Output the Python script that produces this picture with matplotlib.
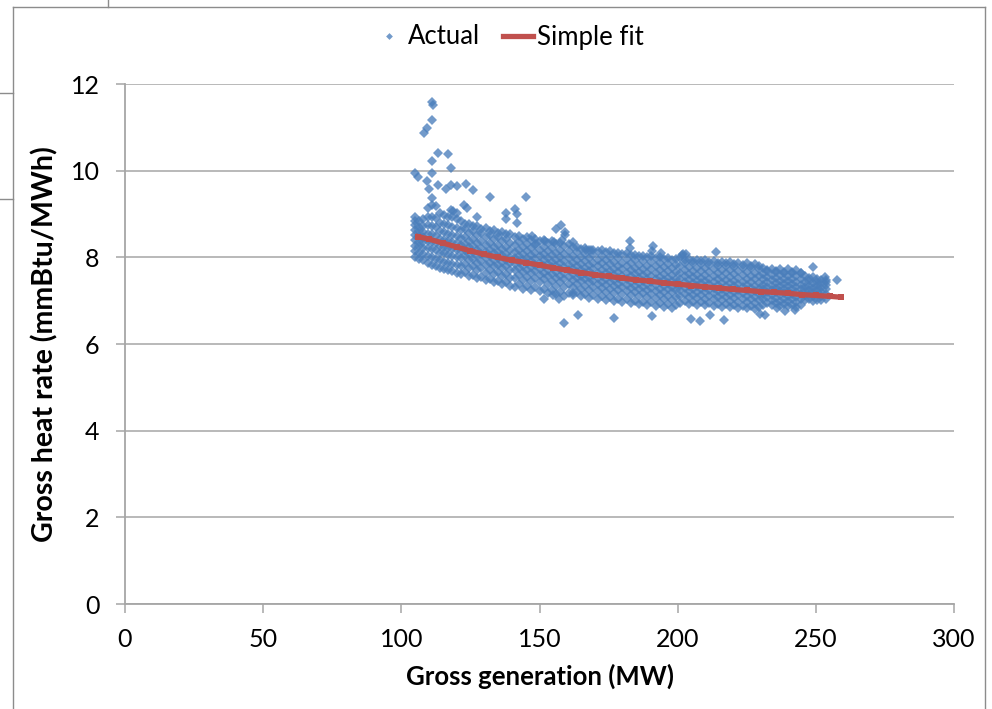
"""Gross heat rate vs gross generation: actual points plus a simple fit curve."""
import matplotlib
matplotlib.use("Agg")
import matplotlib.pyplot as plt
from matplotlib.lines import Line2D

plt.rcParams["font.family"] = ["Lato", "DejaVu Sans"]

# dense band of actual points, one column per generation level (MW)
actual_x = [105, 106.5, 108, 109.5, 111, 112.5, 114, 115.5, 117, 118.5, 120,
            121.5, 123, 124.5, 126, 127.5, 129, 130.5, 132, 133.5, 135, 136.5, 138, 139.5,
            141, 142.5, 144, 145.5, 147, 148.5, 150, 151.5, 153, 154.5, 156, 157.5, 159, 160.5,
            162, 163.5, 165, 166.5, 168, 169.5, 171, 172.5, 174, 175.5, 177, 178.5, 180,
            181.5, 183, 184.5, 186, 187.5, 189, 190.5, 192, 193.5, 195, 196.5, 198, 199.5,
            201, 202.5, 204, 205.5, 207, 208.5, 210, 211.5, 213, 214.5, 216, 217.5, 219,
            220.5, 222, 223.5, 225, 226.5, 228, 229.5,
            231, 232.5, 234, 235.5, 237, 238.5, 240, 241.5, 243, 244.5,
            246, 247.5, 249, 250.5, 252, 253.5]
actual_y = [
    [8.00, 8.15, 8.27, 8.41, 8.52, 8.62, 8.75, 8.84],
    [7.96, 8.10, 8.26, 8.36, 8.50, 8.60, 8.71, 8.83],
    [7.93, 8.08, 8.22, 8.35, 8.46, 8.58, 8.72, 8.88],
    [7.86, 8.02, 8.22, 8.38, 8.55, 8.74, 8.93, 9.15],
    [7.82, 8.00, 8.20, 8.36, 8.53, 8.72, 8.94, 9.20],
    [7.80, 7.97, 8.17, 8.33, 8.50, 8.70, 8.90, 9.18],
    [7.76, 7.93, 8.11, 8.27, 8.43, 8.60, 8.80, 9.02],
    [7.74, 7.90, 8.09, 8.25, 8.41, 8.58, 8.77, 8.97],
    [7.70, 7.88, 8.06, 8.22, 8.38, 8.55, 8.74, 8.94],
    [7.68, 7.85, 8.03, 8.19, 8.35, 8.52, 8.71, 8.92],
    [7.65, 7.82, 8.00, 8.16, 8.32, 8.49, 8.68, 8.88],
    [7.62, 7.81, 7.99, 8.14, 8.29, 8.44, 8.62, 8.84],
    [7.66, 7.85, 8.02, 8.17, 8.31, 8.47, 8.66, 8.78],
    [7.56, 7.75, 7.93, 8.08, 8.23, 8.38, 8.56, 8.78],
    [7.60, 7.80, 7.97, 8.12, 8.26, 8.42, 8.61, 8.72],
    [7.52, 7.70, 7.88, 8.03, 8.18, 8.33, 8.51, 8.72],
    [7.55, 7.75, 7.92, 8.07, 8.21, 8.37, 8.56, 8.66],
    [7.47, 7.65, 7.83, 7.98, 8.13, 8.28, 8.46, 8.67],
    [7.50, 7.70, 7.87, 8.02, 8.16, 8.32, 8.51, 8.61],
    [7.43, 7.61, 7.79, 7.94, 8.09, 8.24, 8.42, 8.63],
    [7.46, 7.66, 7.83, 7.98, 8.12, 8.28, 8.47, 8.57],
    [7.39, 7.57, 7.75, 7.90, 8.05, 8.20, 8.38, 8.58],
    [7.42, 7.62, 7.79, 7.94, 8.08, 8.24, 8.43, 8.53],
    [7.35, 7.53, 7.71, 7.86, 8.01, 8.16, 8.34, 8.55],
    [7.32, 7.52, 7.70, 7.84, 7.98, 8.12, 8.28, 8.47],
    [7.38, 7.59, 7.75, 7.90, 8.03, 8.18, 8.35, 8.50],
    [7.28, 7.48, 7.66, 7.80, 7.94, 8.08, 8.24, 8.43],
    [7.34, 7.55, 7.71, 7.86, 7.99, 8.14, 8.31, 8.46],
    [7.25, 7.45, 7.63, 7.77, 7.91, 8.05, 8.21, 8.40],
    [7.31, 7.52, 7.68, 7.83, 7.96, 8.11, 8.28, 8.43],
    [7.22, 7.42, 7.60, 7.74, 7.88, 8.02, 8.18, 8.37],
    [7.28, 7.49, 7.65, 7.80, 7.93, 8.08, 8.25, 8.40],
    [7.18, 7.38, 7.56, 7.70, 7.84, 7.98, 8.14, 8.33],
    [7.25, 7.46, 7.62, 7.77, 7.90, 8.05, 8.22, 8.37],
    [7.15, 7.35, 7.53, 7.67, 7.81, 7.95, 8.11, 8.30],
    [7.21, 7.42, 7.58, 7.73, 7.86, 8.01, 8.18, 8.33],
    [7.11, 7.31, 7.49, 7.63, 7.77, 7.91, 8.07, 8.26],
    [7.18, 7.39, 7.55, 7.70, 7.83, 7.98, 8.15, 8.30],
    [7.13, 7.31, 7.48, 7.61, 7.74, 7.88, 8.04, 8.23],
    [7.19, 7.38, 7.53, 7.67, 7.80, 7.95, 8.12, 8.25],
    [7.10, 7.28, 7.45, 7.58, 7.71, 7.85, 8.01, 8.20],
    [7.15, 7.34, 7.49, 7.63, 7.76, 7.91, 8.08, 8.21],
    [7.07, 7.25, 7.42, 7.55, 7.68, 7.82, 7.98, 8.17],
    [7.12, 7.31, 7.46, 7.60, 7.73, 7.88, 8.05, 8.18],
    [7.04, 7.22, 7.39, 7.52, 7.65, 7.79, 7.95, 8.14],
    [7.10, 7.29, 7.44, 7.58, 7.71, 7.86, 8.03, 8.16],
    [7.02, 7.20, 7.37, 7.50, 7.63, 7.77, 7.93, 8.12],
    [7.08, 7.27, 7.42, 7.56, 7.69, 7.84, 8.01, 8.14],
    [6.99, 7.17, 7.34, 7.47, 7.60, 7.74, 7.90, 8.09],
    [7.05, 7.24, 7.39, 7.53, 7.66, 7.81, 7.98, 8.11],
    [6.97, 7.15, 7.32, 7.45, 7.58, 7.72, 7.88, 8.07],
    [7.03, 7.22, 7.37, 7.51, 7.64, 7.79, 7.96, 8.09],
    [6.95, 7.13, 7.30, 7.43, 7.56, 7.70, 7.86, 8.05],
    [7.00, 7.19, 7.34, 7.48, 7.61, 7.76, 7.93, 8.06],
    [6.92, 7.10, 7.27, 7.40, 7.53, 7.67, 7.83, 8.02],
    [6.98, 7.17, 7.32, 7.46, 7.59, 7.74, 7.91, 8.04],
    [6.90, 7.08, 7.25, 7.38, 7.51, 7.65, 7.81, 8.00],
    [6.96, 7.15, 7.30, 7.44, 7.57, 7.72, 7.89, 8.02],
    [6.88, 7.06, 7.23, 7.36, 7.49, 7.63, 7.79, 7.98],
    [6.94, 7.13, 7.28, 7.42, 7.55, 7.70, 7.87, 8.00],
    [6.86, 7.04, 7.21, 7.34, 7.47, 7.61, 7.77, 7.96],
    [6.92, 7.11, 7.26, 7.40, 7.53, 7.68, 7.85, 7.98],
    [6.84, 7.02, 7.19, 7.32, 7.45, 7.59, 7.75, 7.94],
    [6.90, 7.09, 7.24, 7.38, 7.51, 7.66, 7.83, 7.96],
    [6.95, 7.10, 7.24, 7.37, 7.50, 7.64, 7.80, 7.99],
    [7.00, 7.16, 7.30, 7.43, 7.56, 7.71, 7.88, 7.94],
    [6.93, 7.08, 7.22, 7.35, 7.48, 7.62, 7.78, 7.97],
    [6.98, 7.14, 7.28, 7.41, 7.54, 7.69, 7.86, 7.92],
    [6.91, 7.06, 7.20, 7.33, 7.46, 7.60, 7.76, 7.95],
    [6.97, 7.13, 7.27, 7.40, 7.53, 7.68, 7.85, 7.91],
    [6.90, 7.05, 7.19, 7.32, 7.45, 7.59, 7.75, 7.94],
    [6.95, 7.11, 7.25, 7.38, 7.51, 7.66, 7.83, 7.89],
    [6.88, 7.03, 7.17, 7.30, 7.43, 7.57, 7.73, 7.92],
    [6.93, 7.09, 7.23, 7.36, 7.49, 7.64, 7.81, 7.87],
    [6.86, 7.01, 7.15, 7.28, 7.41, 7.55, 7.71, 7.90],
    [6.92, 7.08, 7.22, 7.35, 7.48, 7.63, 7.80, 7.86],
    [6.85, 7.00, 7.14, 7.27, 7.40, 7.54, 7.70, 7.89],
    [6.90, 7.06, 7.20, 7.33, 7.46, 7.61, 7.78, 7.84],
    [6.83, 6.98, 7.12, 7.25, 7.38, 7.52, 7.68, 7.87],
    [6.88, 7.04, 7.18, 7.31, 7.44, 7.59, 7.76, 7.82],
    [6.82, 6.97, 7.11, 7.24, 7.37, 7.51, 7.67, 7.86],
    [6.87, 7.03, 7.17, 7.30, 7.43, 7.58, 7.75, 7.81],
    [6.80, 6.95, 7.09, 7.22, 7.35, 7.49, 7.65, 7.84],
    [6.85, 7.01, 7.15, 7.28, 7.41, 7.56, 7.73, 7.79],
    [6.91, 7.03, 7.15, 7.26, 7.37, 7.49, 7.62, 7.76],
    [6.95, 7.08, 7.20, 7.31, 7.42, 7.54, 7.68, 7.70],
    [6.89, 7.01, 7.13, 7.24, 7.35, 7.47, 7.60, 7.74],
    [6.94, 7.07, 7.19, 7.30, 7.41, 7.53, 7.67, 7.69],
    [6.88, 7.00, 7.12, 7.23, 7.34, 7.46, 7.59, 7.73],
    [6.92, 7.05, 7.17, 7.28, 7.39, 7.51, 7.65, 7.67],
    [6.87, 6.99, 7.11, 7.22, 7.33, 7.45, 7.58, 7.72],
    [6.91, 7.04, 7.16, 7.27, 7.38, 7.50, 7.64, 7.66],
    [6.85, 6.97, 7.09, 7.20, 7.31, 7.43, 7.56, 7.70],
    [6.90, 7.03, 7.15, 7.26, 7.37, 7.49, 7.63, 7.65],
    [7.02, 7.12, 7.22, 7.32, 7.43, 7.56],
    [7.03, 7.14, 7.25, 7.35, 7.46, 7.52],
    [7.00, 7.10, 7.20, 7.30, 7.41, 7.54],
    [7.02, 7.13, 7.24, 7.33, 7.44, 7.50],
    [7.01, 7.11, 7.21, 7.30, 7.39, 7.47],
    [7.05, 7.15, 7.26, 7.36, 7.44],
]

# scattered points away from the band
outlier_x = [111.2, 111.4, 111.2, 109.3, 108.2, 113.4, 117.0, 111.2, 118.1, 105.1,
             111.2, 106.2, 109.4, 113.3, 110.1, 116.3, 118.1, 120.3, 123.4, 126.1,
             111.2, 132.2, 145.2, 122.5, 123.7, 117.8, 120.3, 127.4, 141.0, 141.9,
             138.0, 142.0, 105.1, 138.0, 118.6, 147.4, 148.8, 152.0, 156.0, 155.4,
             157.9, 159.1, 159.1, 158.0, 162.0, 182.6, 182.6, 191.0, 190.8, 194.0,
             203.0, 213.8, 167.0, 168.7, 201.7, 202.0, 248.8, 253.3, 257.6, 253.7,
             159.0, 164.0, 176.8, 190.8, 205.0, 208.0, 211.8, 216.7, 229.7, 231.5,
             236.0, 238.8, 242.4, 155.0, 151.8, 157.0, 162.0]
outlier_y = [11.58, 11.52, 11.16, 10.98, 10.86, 10.40, 10.38, 10.22, 10.06, 9.94,
             9.94, 9.85, 9.76, 9.66, 9.57, 9.57, 9.66, 9.64, 9.69, 9.55,
             9.37, 9.40, 9.40, 9.20, 9.14, 9.10, 9.03, 8.93, 9.11, 9.00,
             9.03, 8.80, 8.92, 8.88, 9.07, 8.49, 8.30, 8.38, 8.65, 8.36,
             8.74, 8.59, 8.51, 8.40, 8.36, 8.38, 8.21, 8.26, 8.14, 8.10,
             8.07, 8.13, 8.17, 8.17, 8.05, 8.07, 7.78, 7.54, 7.47, 7.47,
             6.48, 6.67, 6.60, 6.64, 6.58, 6.53, 6.67, 6.55, 6.69, 6.67,
             6.83, 6.77, 6.78, 7.13, 7.04, 7.04, 7.18]

fit_x = [106, 110, 115, 120, 125, 130, 135, 140, 145, 150, 155, 160, 165, 170, 175,
         180, 185, 190, 195, 200, 205, 210, 215, 220, 225, 230, 235, 240, 245, 250,
         255, 259]
fit_y = [8.48, 8.42, 8.33, 8.24, 8.15, 8.07, 8.00, 7.93, 7.88, 7.82, 7.76, 7.70, 7.65,
         7.60, 7.56, 7.52, 7.48, 7.45, 7.41, 7.38, 7.35, 7.32, 7.29, 7.26, 7.235, 7.21,
         7.19, 7.17, 7.14, 7.12, 7.10, 7.08]

x_ticks = [0, 50, 100, 150, 200, 250, 300]
y_ticks = [0, 2, 4, 6, 8, 10, 12]

W, H = 992, 709
BLUE = "#4A7EBB"
RED = "#C0504D"
GRID = "#A6A6A6"

fig = plt.figure(figsize=(W / 100, H / 100), dpi=100)


def fx(px):
    return px / W


def fy(py):
    return 1 - py / H


# chart-area frame plus the stray lines at the top-left corner
for xs, ys in [((13, 13), (7, 709)), ((13, 985), (7, 7)), ((985, 985), (7, 709)),
               ((108, 108), (0, 7)), ((0, 13), (93, 93)), ((0, 13), (199, 199))]:
    fig.add_artist(Line2D([fx(v) for v in xs], [fy(v) for v in ys],
                          color="#8C8C8C", lw=1.0))

ax = fig.add_axes([fx(125), fy(604), fx(954) - fx(125), fy(84) - fy(604)])

pts_x, pts_y = [], []
for x, col in zip(actual_x, actual_y):
    pts_x += [x] * len(col)
    pts_y += col
pts_x += outlier_x
pts_y += outlier_y

ax.plot(pts_x, pts_y, ls="none", marker="D", ms=4.6, mew=0, color=BLUE,
        alpha=0.78, label="Actual", zorder=3)
ax.plot(fit_x, fit_y, color=RED, lw=3.8, marker="s", ms=4.0, mew=0,
        label="Simple fit", zorder=4)

ax.set_xlim(0, 300)
ax.set_ylim(0, 12)
ax.set_xticks(x_ticks)
ax.set_yticks(y_ticks)
ax.grid(axis="y", color=GRID, lw=1.1)
ax.set_axisbelow(True)
for s in ["top", "right"]:
    ax.spines[s].set_visible(False)
for s in ["left", "bottom"]:
    ax.spines[s].set_color(GRID)
    ax.spines[s].set_linewidth(1.3)
ax.tick_params(axis="both", direction="out", length=6.2, width=1.1, color=GRID,
               labelsize=18, labelcolor="black")
ax.tick_params(axis="y", pad=12)
ax.tick_params(axis="x", pad=11)

ax.set_xlabel("Gross generation (MW)", fontsize=18.5, fontweight="bold", labelpad=9)
ax.set_ylabel("Gross heat rate (mmBtu/MWh)", fontsize=20.5, fontweight="bold", labelpad=9)

fig.legend(loc="center", bbox_to_anchor=(fx(509), fy(37)), ncol=2, frameon=False,
           fontsize=18.5, handlelength=1.15, handletextpad=0.15, columnspacing=0.9,
           markerscale=0.75)

fig.savefig("out.png", dpi=100)
